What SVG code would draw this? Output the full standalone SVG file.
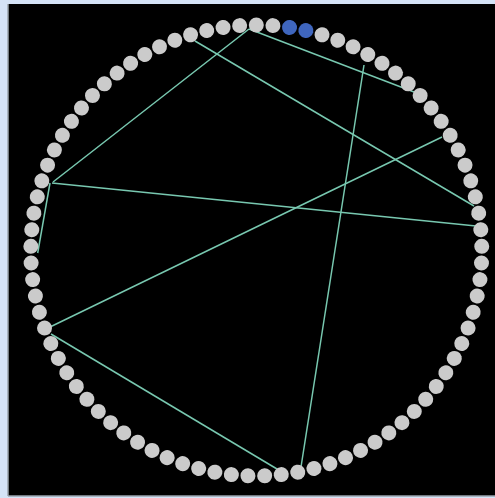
<svg xmlns="http://www.w3.org/2000/svg" width="495" height="498" viewBox="0 0 495 498">
<style>
.e{stroke:#78c8b0;stroke-width:1.5;fill:none}
.n{fill:#cbcbcb}
.b{fill:#3f66be}
</style>
<rect x="0" y="0" width="495" height="498" fill="#d5e3f7"/>
<rect x="8" y="4" width="487" height="492" fill="#000"/>
<line x1="8" y1="4" x2="8" y2="496" stroke="#9aa3ad" stroke-width="1.5"/>
<line x1="8" y1="496" x2="495" y2="496" stroke="#9aa3ad" stroke-width="1.5"/>
<g id="connectors">
<line class="e" x1="249" y1="29" x2="53" y2="182"/>
<line class="e" x1="249" y1="29" x2="414" y2="92"/>
<line class="e" x1="195" y1="41" x2="474" y2="206"/>
<line class="e" x1="364" y1="65" x2="301" y2="467"/>
<line class="e" x1="442" y1="137" x2="50" y2="327"/>
<line class="e" x1="52" y1="183" x2="476" y2="226"/>
<line class="e" x1="50" y1="183" x2="37.7" y2="253"/>
<line class="e" x1="51" y1="334" x2="277" y2="469"/>
</g>
<g id="nodes">
<g id="n0"><circle class="n" cx="256.3" cy="25" r="7.5" transform="rotate(0 256.3 250.5)"/></g>
<g id="n1"><circle class="n" cx="256.3" cy="25" r="7.5" transform="rotate(4.2353 256.3 250.5)"/></g>
<g id="n2"><circle class="b" cx="256.3" cy="25" r="7.5" transform="rotate(8.4706 256.3 250.5)"/></g>
<g id="n3"><circle class="b" cx="256.3" cy="25" r="7.5" transform="rotate(12.7059 256.3 250.5)"/></g>
<g id="n4"><circle class="n" cx="256.3" cy="25" r="7.5" transform="rotate(16.9412 256.3 250.5)"/></g>
<g id="n5"><circle class="n" cx="256.3" cy="25" r="7.5" transform="rotate(21.1765 256.3 250.5)"/></g>
<g id="n6"><circle class="n" cx="256.3" cy="25" r="7.5" transform="rotate(25.4118 256.3 250.5)"/></g>
<g id="n7"><circle class="n" cx="256.3" cy="25" r="7.5" transform="rotate(29.6471 256.3 250.5)"/></g>
<g id="n8"><circle class="n" cx="256.3" cy="25" r="7.5" transform="rotate(33.8824 256.3 250.5)"/></g>
<g id="n9"><circle class="n" cx="256.3" cy="25" r="7.5" transform="rotate(38.1176 256.3 250.5)"/></g>
<g id="n10"><circle class="n" cx="256.3" cy="25" r="7.5" transform="rotate(42.3529 256.3 250.5)"/></g>
<g id="n11"><circle class="n" cx="256.3" cy="25" r="7.5" transform="rotate(46.5882 256.3 250.5)"/></g>
<g id="n12"><circle class="n" cx="256.3" cy="25" r="7.5" transform="rotate(50.8235 256.3 250.5)"/></g>
<g id="n13"><circle class="n" cx="256.3" cy="25" r="7.5" transform="rotate(55.0588 256.3 250.5)"/></g>
<g id="n14"><circle class="n" cx="256.3" cy="25" r="7.5" transform="rotate(59.2941 256.3 250.5)"/></g>
<g id="n15"><circle class="n" cx="256.3" cy="25" r="7.5" transform="rotate(63.5294 256.3 250.5)"/></g>
<g id="n16"><circle class="n" cx="256.3" cy="25" r="7.5" transform="rotate(67.7647 256.3 250.5)"/></g>
<g id="n17"><circle class="n" cx="256.3" cy="25" r="7.5" transform="rotate(72 256.3 250.5)"/></g>
<g id="n18"><circle class="n" cx="256.3" cy="25" r="7.5" transform="rotate(76.2353 256.3 250.5)"/></g>
<g id="n19"><circle class="n" cx="256.3" cy="25" r="7.5" transform="rotate(80.4706 256.3 250.5)"/></g>
<g id="n20"><circle class="n" cx="256.3" cy="25" r="7.5" transform="rotate(84.7059 256.3 250.5)"/></g>
<g id="n21"><circle class="n" cx="256.3" cy="25" r="7.5" transform="rotate(88.9412 256.3 250.5)"/></g>
<g id="n22"><circle class="n" cx="256.3" cy="25" r="7.5" transform="rotate(93.1765 256.3 250.5)"/></g>
<g id="n23"><circle class="n" cx="256.3" cy="25" r="7.5" transform="rotate(97.4118 256.3 250.5)"/></g>
<g id="n24"><circle class="n" cx="256.3" cy="25" r="7.5" transform="rotate(101.6471 256.3 250.5)"/></g>
<g id="n25"><circle class="n" cx="256.3" cy="25" r="7.5" transform="rotate(105.8824 256.3 250.5)"/></g>
<g id="n26"><circle class="n" cx="256.3" cy="25" r="7.5" transform="rotate(110.1176 256.3 250.5)"/></g>
<g id="n27"><circle class="n" cx="256.3" cy="25" r="7.5" transform="rotate(114.3529 256.3 250.5)"/></g>
<g id="n28"><circle class="n" cx="256.3" cy="25" r="7.5" transform="rotate(118.5882 256.3 250.5)"/></g>
<g id="n29"><circle class="n" cx="256.3" cy="25" r="7.5" transform="rotate(122.8235 256.3 250.5)"/></g>
<g id="n30"><circle class="n" cx="256.3" cy="25" r="7.5" transform="rotate(127.0588 256.3 250.5)"/></g>
<g id="n31"><circle class="n" cx="256.3" cy="25" r="7.5" transform="rotate(131.2941 256.3 250.5)"/></g>
<g id="n32"><circle class="n" cx="256.3" cy="25" r="7.5" transform="rotate(135.5294 256.3 250.5)"/></g>
<g id="n33"><circle class="n" cx="256.3" cy="25" r="7.5" transform="rotate(139.7647 256.3 250.5)"/></g>
<g id="n34"><circle class="n" cx="256.3" cy="25" r="7.5" transform="rotate(144 256.3 250.5)"/></g>
<g id="n35"><circle class="n" cx="256.3" cy="25" r="7.5" transform="rotate(148.2353 256.3 250.5)"/></g>
<g id="n36"><circle class="n" cx="256.3" cy="25" r="7.5" transform="rotate(152.4706 256.3 250.5)"/></g>
<g id="n37"><circle class="n" cx="256.3" cy="25" r="7.5" transform="rotate(156.7059 256.3 250.5)"/></g>
<g id="n38"><circle class="n" cx="256.3" cy="25" r="7.5" transform="rotate(160.9412 256.3 250.5)"/></g>
<g id="n39"><circle class="n" cx="256.3" cy="25" r="7.5" transform="rotate(165.1765 256.3 250.5)"/></g>
<g id="n40"><circle class="n" cx="256.3" cy="25" r="7.5" transform="rotate(169.4118 256.3 250.5)"/></g>
<g id="n41"><circle class="n" cx="256.3" cy="25" r="7.5" transform="rotate(173.6471 256.3 250.5)"/></g>
<g id="n42"><circle class="n" cx="256.3" cy="25" r="7.5" transform="rotate(177.8824 256.3 250.5)"/></g>
<g id="n43"><circle class="n" cx="256.3" cy="25" r="7.5" transform="rotate(182.1176 256.3 250.5)"/></g>
<g id="n44"><circle class="n" cx="256.3" cy="25" r="7.5" transform="rotate(186.3529 256.3 250.5)"/></g>
<g id="n45"><circle class="n" cx="256.3" cy="25" r="7.5" transform="rotate(190.5882 256.3 250.5)"/></g>
<g id="n46"><circle class="n" cx="256.3" cy="25" r="7.5" transform="rotate(194.8235 256.3 250.5)"/></g>
<g id="n47"><circle class="n" cx="256.3" cy="25" r="7.5" transform="rotate(199.0588 256.3 250.5)"/></g>
<g id="n48"><circle class="n" cx="256.3" cy="25" r="7.5" transform="rotate(203.2941 256.3 250.5)"/></g>
<g id="n49"><circle class="n" cx="256.3" cy="25" r="7.5" transform="rotate(207.5294 256.3 250.5)"/></g>
<g id="n50"><circle class="n" cx="256.3" cy="25" r="7.5" transform="rotate(211.7647 256.3 250.5)"/></g>
<g id="n51"><circle class="n" cx="256.3" cy="25" r="7.5" transform="rotate(216 256.3 250.5)"/></g>
<g id="n52"><circle class="n" cx="256.3" cy="25" r="7.5" transform="rotate(220.2353 256.3 250.5)"/></g>
<g id="n53"><circle class="n" cx="256.3" cy="25" r="7.5" transform="rotate(224.4706 256.3 250.5)"/></g>
<g id="n54"><circle class="n" cx="256.3" cy="25" r="7.5" transform="rotate(228.7059 256.3 250.5)"/></g>
<g id="n55"><circle class="n" cx="256.3" cy="25" r="7.5" transform="rotate(232.9412 256.3 250.5)"/></g>
<g id="n56"><circle class="n" cx="256.3" cy="25" r="7.5" transform="rotate(237.1765 256.3 250.5)"/></g>
<g id="n57"><circle class="n" cx="256.3" cy="25" r="7.5" transform="rotate(241.4118 256.3 250.5)"/></g>
<g id="n58"><circle class="n" cx="256.3" cy="25" r="7.5" transform="rotate(245.6471 256.3 250.5)"/></g>
<g id="n59"><circle class="n" cx="256.3" cy="25" r="7.5" transform="rotate(249.8824 256.3 250.5)"/></g>
<g id="n60"><circle class="n" cx="256.3" cy="25" r="7.5" transform="rotate(254.1176 256.3 250.5)"/></g>
<g id="n61"><circle class="n" cx="256.3" cy="25" r="7.5" transform="rotate(258.3529 256.3 250.5)"/></g>
<g id="n62"><circle class="n" cx="256.3" cy="25" r="7.5" transform="rotate(262.5882 256.3 250.5)"/></g>
<g id="n63"><circle class="n" cx="256.3" cy="25" r="7.5" transform="rotate(266.8235 256.3 250.5)"/></g>
<g id="n64"><circle class="n" cx="256.3" cy="25" r="7.5" transform="rotate(271.0588 256.3 250.5)"/></g>
<g id="n65"><circle class="n" cx="256.3" cy="25" r="7.5" transform="rotate(275.2941 256.3 250.5)"/></g>
<g id="n66"><circle class="n" cx="256.3" cy="25" r="7.5" transform="rotate(279.5294 256.3 250.5)"/></g>
<g id="n67"><circle class="n" cx="256.3" cy="25" r="7.5" transform="rotate(283.7647 256.3 250.5)"/></g>
<g id="n68"><circle class="n" cx="256.3" cy="25" r="7.5" transform="rotate(288 256.3 250.5)"/></g>
<g id="n69"><circle class="n" cx="256.3" cy="25" r="7.5" transform="rotate(292.2353 256.3 250.5)"/></g>
<g id="n70"><circle class="n" cx="256.3" cy="25" r="7.5" transform="rotate(296.4706 256.3 250.5)"/></g>
<g id="n71"><circle class="n" cx="256.3" cy="25" r="7.5" transform="rotate(300.7059 256.3 250.5)"/></g>
<g id="n72"><circle class="n" cx="256.3" cy="25" r="7.5" transform="rotate(304.9412 256.3 250.5)"/></g>
<g id="n73"><circle class="n" cx="256.3" cy="25" r="7.5" transform="rotate(309.1765 256.3 250.5)"/></g>
<g id="n74"><circle class="n" cx="256.3" cy="25" r="7.5" transform="rotate(313.4118 256.3 250.5)"/></g>
<g id="n75"><circle class="n" cx="256.3" cy="25" r="7.5" transform="rotate(317.6471 256.3 250.5)"/></g>
<g id="n76"><circle class="n" cx="256.3" cy="25" r="7.5" transform="rotate(321.8824 256.3 250.5)"/></g>
<g id="n77"><circle class="n" cx="256.3" cy="25" r="7.5" transform="rotate(326.1176 256.3 250.5)"/></g>
<g id="n78"><circle class="n" cx="256.3" cy="25" r="7.5" transform="rotate(330.3529 256.3 250.5)"/></g>
<g id="n79"><circle class="n" cx="256.3" cy="25" r="7.5" transform="rotate(334.5882 256.3 250.5)"/></g>
<g id="n80"><circle class="n" cx="256.3" cy="25" r="7.5" transform="rotate(338.8235 256.3 250.5)"/></g>
<g id="n81"><circle class="n" cx="256.3" cy="25" r="7.5" transform="rotate(343.0588 256.3 250.5)"/></g>
<g id="n82"><circle class="n" cx="256.3" cy="25" r="7.5" transform="rotate(347.2941 256.3 250.5)"/></g>
<g id="n83"><circle class="n" cx="256.3" cy="25" r="7.5" transform="rotate(351.5294 256.3 250.5)"/></g>
<g id="n84"><circle class="n" cx="256.3" cy="25" r="7.5" transform="rotate(355.7647 256.3 250.5)"/></g>
</g>
</svg>
